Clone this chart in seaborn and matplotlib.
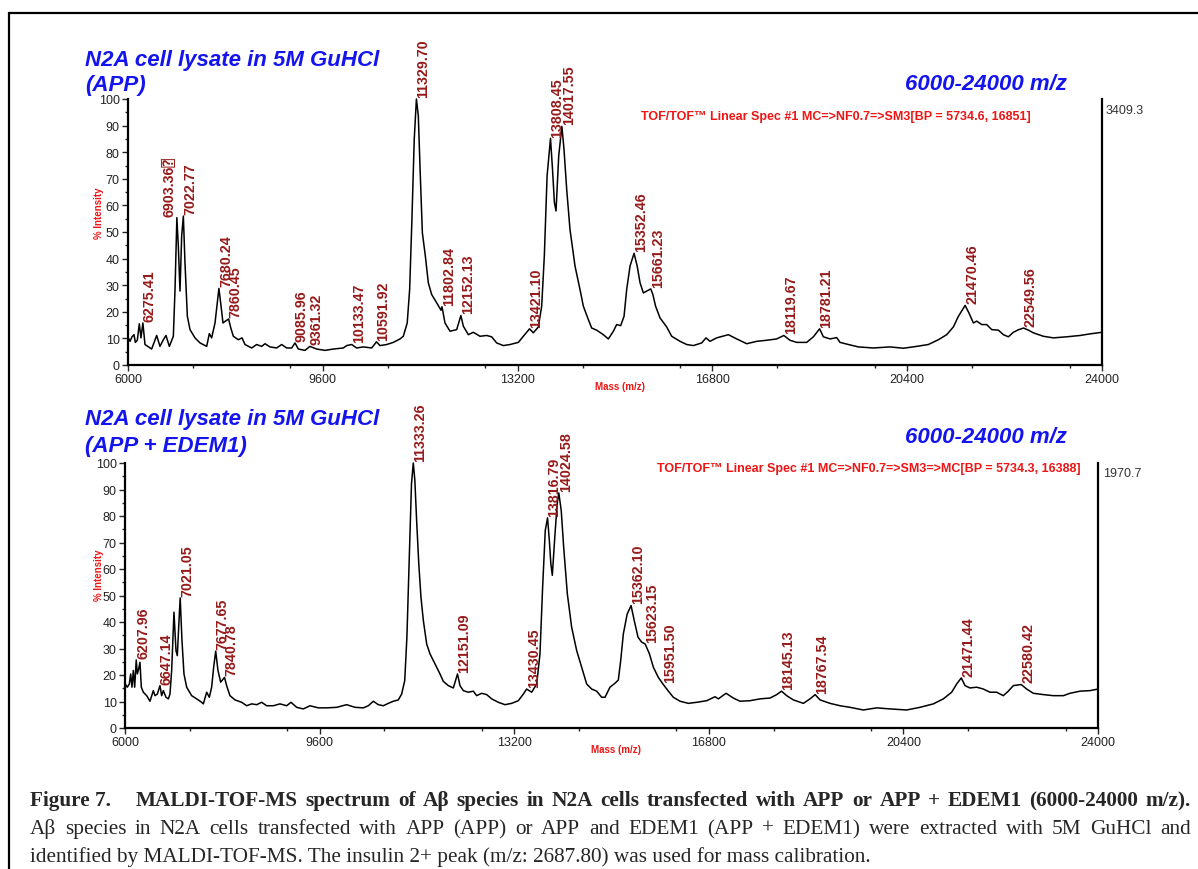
import numpy as np
import pandas as pd
import seaborn as sns
import matplotlib.pyplot as plt
from matplotlib import font_manager, ft2font
from matplotlib.patches import Rectangle
from matplotlib.ticker import MultipleLocator

### MALDI-TOF-MS spectra of Abeta species (APP vs APP + EDEM1)

sns.set_style("white")
plt.rcParams['font.family'] = ['Liberation Sans', 'DejaVu Sans']

# ---- spectrum: APP ----
app_mass = [6006, 6037, 6074, 6111, 6136, 6172, 6209, 6240, 6275, 6314, 6437, 6530, 6591,
            6653, 6702, 6764, 6838, 6869, 6903, 6930, 6961, 6992, 7023, 7053, 7097, 7146,
            7238, 7331, 7454, 7503, 7546, 7608, 7680, 7720, 7755, 7800, 7860, 7900, 7947,
            8039, 8107, 8162, 8285, 8378, 8470, 8532, 8624, 8747, 8840, 8932, 9025, 9086,
            9148, 9271, 9361, 9487, 9641, 9795, 9979, 10041, 10133, 10226, 10349, 10503,
            10592, 10657, 10780, 10903, 11027, 11088, 11160, 11205, 11245, 11290, 11330,
            11365, 11400, 11440, 11495, 11550, 11612, 11704, 11784, 11803, 11858, 11951,
            12074, 12152, 12197, 12290, 12382, 12505, 12628, 12721, 12813, 12936, 13060,
            13214, 13306, 13421, 13491, 13583, 13645, 13694, 13745, 13808, 13845, 13880,
            13910, 13960, 14018, 14057, 14107, 14168, 14261, 14353, 14415, 14507, 14569,
            14661, 14784, 14877, 14970, 15031, 15105, 15167, 15216, 15278, 15352, 15410,
            15463, 15524, 15586, 15661, 15700, 15750, 15832, 15955, 16048, 16202, 16325,
            16448, 16602, 16682, 16756, 16879, 17095, 17249, 17434, 17618, 17803, 17988,
            18120, 18234, 18358, 18542, 18666, 18781, 18851, 18974, 19097, 19159, 19313,
            19498, 19775, 20083, 20329, 20575, 20791, 20976, 21130, 21253, 21346, 21470,
            21540, 21623, 21685, 21777, 21869, 21962, 22085, 22177, 22270, 22362, 22450,
            22550, 22640, 22731, 22916, 23101, 23347, 23594, 23779, 24000]
app_int = [10.2, 8.9, 10.6, 11.4, 8.5, 9.3, 15.5, 10.2, 15.8, 7.7, 6.0, 11.1, 7.0,
           9.5, 11.1, 7.0, 10.8, 28.4, 55.4, 44.7, 27.8, 48.5, 56.0, 38.4, 18.3, 13.3,
           10.2, 8.3, 7.0, 11.8, 10.2, 15.8, 28.8, 22.1, 15.8, 16.5, 17.3, 13.9, 10.8,
           9.5, 10.2, 7.7, 6.4, 7.7, 7.0, 8.0, 6.8, 6.4, 7.7, 6.4, 6.4, 8.3,
           6.0, 5.5, 7.0, 6.0, 5.5, 6.0, 6.4, 7.3, 7.7, 6.4, 6.8, 6.4,
           8.7, 7.3, 7.7, 8.5, 9.8, 10.8, 15.8, 28.4, 53.5, 84.9, 100.0,
           93.7, 72.4, 49.7, 41.0, 30.9, 26.5, 23.4, 20.6, 21.9, 15.8, 12.7,
           13.3, 18.6, 14.6, 11.4, 12.3, 10.8, 11.1, 10.6, 8.3, 7.3, 7.7,
           8.5, 10.8, 13.6, 12.1, 14.3, 22.1, 41.0, 71.1, 85.2, 73.6, 61.1,
           57.9, 78.6, 89.7, 81.2, 66.1, 51.0, 37.2, 28.4, 22.1, 17.1, 13.9,
           13.1, 11.4, 9.8, 12.7, 15.2, 14.8, 18.3, 28.4, 37.2, 42.0, 37.2,
           30.9, 27.1, 27.8, 28.6, 26.5, 22.1, 17.7, 14.3, 10.8, 8.9, 7.7,
           7.3, 8.3, 10.2, 8.9, 10.2, 11.4, 9.8, 8.0, 8.9, 9.3, 9.8,
           11.1, 9.3, 8.5, 8.5, 10.6, 13.6, 10.6, 9.8, 10.3, 8.5, 7.7,
           6.8, 6.4, 6.8, 6.3, 7.0, 7.7, 9.5, 11.4, 14.3, 18.3, 22.4,
           19.6, 15.8, 16.5, 15.2, 15.2, 13.3, 13.1, 11.4, 10.6, 12.3, 13.2,
           13.9, 13.1, 12.1, 10.8, 10.2, 10.6, 11.1, 11.7, 12.3]
app_peaks = [6275.41, 6903.36, 7022.77, 7680.24, 7860.45, 9085.96, 9361.32, 10133.47,
             10591.92, 11329.70, 11802.84, 12152.13, 13421.10, 13808.45, 14017.55,
             15352.46, 15661.23, 18119.67, 18781.21, 21470.46, 22549.56]
app_peak_labels = ["6275.41", "6903.36", "7022.77", "7680.24", "7860.45", "9085.96",
                   "9361.32", "10133.47", "10591.92", "11329.70", "11802.84", "12152.13",
                   "13421.10", "13808.45", "14017.55", "15352.46", "15661.23", "18119.67",
                   "18781.21", "21470.46", "22549.56"]

# ---- spectrum: APP + EDEM1 ----
edem_mass = [6006, 6043, 6080, 6105, 6129, 6154, 6179, 6208, 6228, 6253, 6277, 6302, 6339,
             6401, 6462, 6524, 6555, 6598, 6647, 6678, 6709, 6758, 6802, 6832, 6863, 6906,
             6943, 6968, 6993, 7021, 7054, 7091, 7141, 7233, 7326, 7418, 7449, 7511, 7560,
             7603, 7640, 7678, 7720, 7770, 7841, 7880, 7942, 8035, 8158, 8251, 8343, 8436,
             8528, 8621, 8744, 8867, 8991, 9071, 9176, 9299, 9422, 9577, 9731, 9916, 10101,
             10255, 10409, 10501, 10594, 10686, 10779, 10871, 10964, 11056, 11118, 11175,
             11215, 11260, 11300, 11333, 11362, 11395, 11435, 11475, 11519, 11581, 11642,
             11735, 11827, 11889, 11981, 12074, 12151, 12197, 12259, 12351, 12444, 12505,
             12598, 12691, 12783, 12906, 13030, 13153, 13276, 13369, 13430, 13523, 13616,
             13677, 13726, 13775, 13817, 13850, 13878, 13905, 13955, 13995, 14025, 14070,
             14115, 14183, 14263, 14356, 14448, 14541, 14633, 14726, 14818, 14880, 14972,
             15065, 15126, 15170, 15219, 15290, 15362, 15420, 15490, 15558, 15623, 15701,
             15775, 15866, 15952, 16052, 16144, 16268, 16422, 16576, 16761, 16915, 16977,
             17119, 17254, 17378, 17563, 17748, 17933, 18056, 18145, 18241, 18365, 18550,
             18673, 18768, 18858, 19043, 19228, 19412, 19659, 19906, 20152, 20460, 20707,
             20954, 21139, 21293, 21385, 21471, 21540, 21632, 21755, 21879, 22002, 22125,
             22248, 22341, 22434, 22580, 22680, 22804, 22989, 23174, 23359, 23482, 23667,
             23852, 24000]
edem_int = [16.6, 15.4, 16.6, 20.4, 15.4, 21.7, 15.4, 25.7, 20.4, 22.3, 24.8, 15.4, 13.5,
            12.2, 10.1, 14.1, 12.2, 12.8, 16.0, 12.2, 14.1, 11.6, 11.0, 12.8, 21.7, 43.7,
            29.2, 27.3, 38.0, 49.1, 33.0, 20.4, 15.4, 12.2, 11.0, 9.7, 9.1, 13.5, 11.6,
            15.4, 22.9, 29.0, 21.7, 17.3, 19.1, 16.0, 12.2, 10.6, 9.7, 8.4, 9.1, 8.8,
            9.7, 8.4, 8.4, 9.1, 8.4, 9.7, 7.8, 7.2, 8.4, 7.6, 7.6, 7.8, 8.8,
            7.8, 7.6, 8.4, 10.1, 8.8, 8.4, 9.3, 10.1, 10.6, 12.8, 17.9,
            34.3, 65.7, 92.2, 100.0, 93.5, 78.3, 61.9, 49.4, 40.6, 31.7, 28.0,
            24.2, 20.4, 17.6, 16.0, 15.1, 20.4, 16.0, 14.1, 13.5, 13.9, 12.2,
            13.1, 12.6, 11.0, 9.7, 8.8, 9.3, 10.3, 12.8, 14.7, 13.5, 16.6,
            28.0, 53.2, 74.6, 79.3, 70.8, 62.0, 57.6, 73.3, 84.6, 88.7, 82.1,
            68.3, 50.6, 38.0, 29.2, 22.9, 16.6, 14.7, 13.9, 11.6, 11.6, 15.4,
            16.9, 18.1, 25.4, 35.5, 43.0, 46.2, 40.6, 34.3, 32.4, 31.7, 28.0,
            22.9, 19.1, 16.6, 13.9, 11.6, 10.1, 9.3, 9.7, 10.3, 11.8, 11.0,
            13.1, 11.3, 10.1, 10.3, 11.0, 11.3, 12.6, 13.9, 12.2, 10.6, 9.3,
            11.0, 12.6, 10.6, 9.3, 8.4, 7.8, 6.8, 7.6, 7.2, 6.8, 7.8,
            9.1, 11.0, 13.5, 16.6, 18.9, 16.0, 15.1, 15.4, 14.7, 13.5, 13.5,
            12.2, 13.9, 16.0, 16.4, 14.7, 13.1, 12.6, 12.2, 12.2, 13.1, 13.9,
            14.1, 14.7]
edem_peaks = [6207.96, 6647.14, 7021.05, 7677.65, 7840.78, 11333.26, 12151.09, 13430.45,
              13816.79, 14024.58, 15362.10, 15623.15, 15951.50, 18145.13, 18767.54,
              21471.44, 22580.42]
edem_peak_labels = ["6207.96", "6647.14", "7021.05", "7677.65", "7840.78", "11333.26",
                    "12151.09", "13430.45", "13816.79", "14024.58", "15362.10", "15623.15",
                    "15951.50", "18145.13", "18767.54", "21471.44", "22580.42"]

mass_ticks = [6000, 9600, 13200, 16800, 20400, 24000]

W, H = 1198, 870
BLUE = '#1414ee'
RED = '#ee1515'
PEAK_RED = '#961a1a'
QUAD_Q = '\u2370'  # the odd boxed "?" glyph that follows 6903.36 in the original

fig = plt.figure(figsize=(W / 100, H / 100), dpi=100)


def fx(x):
    return x / W


def fy(y):
    return 1 - y / H


def family_with(ch):
    """Return an installed font family that has a glyph for ch, or None."""
    for f in font_manager.fontManager.ttflist:
        try:
            if ord(ch) in ft2font.FT2Font(f.fname).get_charmap():
                return f.name
        except Exception:
            pass
    return None


quad_family = family_with(QUAD_Q)


def draw_panel(box, mass, inten, peaks, labels, title_lines, spec_text, spec_pos,
               abs_text, abs_pos, ylab_y, mz_base):
    x0, y0, x1, y1 = box
    ax = fig.add_axes([fx(x0), fy(y1), (x1 - x0) / W, (y1 - y0) / H])
    df = pd.DataFrame({'mass': mass, 'intensity': inten})
    sns.lineplot(data=df, x='mass', y='intensity', ax=ax, color='black', lw=1.1,
                 estimator=None, sort=True)
    for line in ax.lines:
        line.set_clip_on(False)
    ax.set_xlim(6000, 24000)
    ax.set_ylim(0, 100)
    ax.set_xticks(mass_ticks)
    ax.xaxis.set_minor_locator(MultipleLocator(1800))
    ax.yaxis.set_major_locator(MultipleLocator(10))
    ax.yaxis.set_minor_locator(MultipleLocator(5))
    ax.tick_params(axis='both', which='major', direction='out', length=4, width=1,
                   labelsize=9, labelcolor='#222222', pad=2, left=True, bottom=True)
    ax.tick_params(axis='both', which='minor', direction='out', length=2.5, width=1,
                   left=True, bottom=True)
    ax.spines['top'].set_visible(False)
    for s in ['left', 'bottom', 'right']:
        ax.spines[s].set_linewidth(1.6)
        ax.spines[s].set_color('black')
    ax.set_xlabel("Mass (m/z)", color=RED, fontsize=7, weight='bold')
    ax.xaxis.set_label_coords(0.505, -0.06)
    ax.set_ylabel("")
    fig.text(fx(99), fy(ylab_y), "% Intensity", color=RED, fontsize=7, weight='bold',
             rotation=90, ha='center', va='center')

    # peak annotations; the 6903.36 label sits to the left of its peak in the original
    for p, lab in zip(peaks, labels):
        h = np.interp(p, mass, inten)
        ha = 'right' if lab == "6903.36" else 'left'
        if lab == "6903.36" and quad_family:
            t = ax.text(p, h + 0.8, lab + QUAD_Q, rotation=90, ha=ha, va='bottom',
                        fontsize=10.3, weight='bold', color=PEAK_RED, clip_on=False,
                        family=['Liberation Sans', quad_family])
            continue
        t = ax.text(p, h + 0.8, lab, rotation=90, ha=ha, va='bottom', fontsize=10.3,
                    weight='bold', color=PEAK_RED, clip_on=False)
        if lab == "6903.36":
            # no installed font has the boxed question mark: draw it as a boxed "?"
            ax.annotate("?", xy=(0.5, 1), xycoords=t, xytext=(0, 2),
                        textcoords='offset points', rotation=90, ha='center', va='bottom',
                        fontsize=5.5, color=PEAK_RED,
                        bbox=dict(boxstyle='square,pad=0.1', fc='white', ec=PEAK_RED,
                                  lw=0.6))

    for txt, base in title_lines:
        fig.text(fx(85), fy(base), txt, color=BLUE, fontsize=16, weight='bold',
                 style='italic', va='baseline', ha='left')
    fig.text(fx(905), fy(mz_base), "6000-24000 m/z", color=BLUE, fontsize=16,
             weight='bold', style='italic', va='baseline', ha='left')
    fig.text(fx(spec_pos[0]), fy(spec_pos[1]), spec_text, color=RED, fontsize=9,
             weight='bold', va='baseline', ha='left')
    fig.text(fx(abs_pos[0]), fy(abs_pos[1]), abs_text, color='#333333', fontsize=9,
             va='baseline', ha='left')
    return ax


draw_panel((128, 100, 1102, 366), app_mass, app_int, app_peaks, app_peak_labels,
           [("N2A cell lysate in 5M GuHCl", 66), ("(APP)", 91)],
           "TOF/TOF\u2122 Linear Spec #1 MC=>NF0.7=>SM3[BP = 5734.6, 16851]", (641, 120),
           "3409.3", (1106, 114), 213, 90)
draw_panel((125, 464, 1098, 729), edem_mass, edem_int, edem_peaks, edem_peak_labels,
           [("N2A cell lysate in 5M GuHCl", 425), ("(APP + EDEM1)", 452)],
           "TOF/TOF\u2122 Linear Spec #1 MC=>NF0.7=>SM3=>MC[BP = 5734.3, 16388]", (657, 472),
           "1970.7", (1103, 477), 575, 443)

# outer frame (cut by the right and bottom edges like the original)
fig.add_artist(Rectangle((fx(9), -0.05), 1.1, fy(14) + 0.05, transform=fig.transFigure,
                         fill=False, edgecolor='black', lw=1.6, clip_on=False))

# ---- caption ----
SERIF = ['Liberation Serif', 'DejaVu Serif']
CAP_SIZE = 15.3
renderer = fig.canvas.get_renderer()


def justify(words, base, x_start, x_end, **kw):
    texts = [fig.text(0, fy(base), w, va='baseline', ha='left', **kw) for w in words]
    widths = [t.get_window_extent(renderer).width for t in texts]
    gap = (x_end - x_start - sum(widths)) / max(len(words) - 1, 1)
    x = x_start
    for t, w in zip(texts, widths):
        t.set_x(fx(x))
        x += w + gap


fig.text(fx(30), fy(806), "Figure 7.", family=SERIF, fontsize=CAP_SIZE, weight='bold',
         va='baseline', ha='left')
justify("MALDI-TOF-MS spectrum of A\u03b2 species in N2A cells transfected with APP or "
        "APP + EDEM1 (6000-24000 m/z).".split(), 806, 136, 1191,
        family=SERIF, fontsize=CAP_SIZE, weight='bold')
justify("A\u03b2 species in N2A cells transfected with APP (APP) or APP and EDEM1 "
        "(APP + EDEM1) were extracted with 5M GuHCl and".split(), 834, 30, 1191,
        family=SERIF, fontsize=CAP_SIZE)
fig.text(fx(30), fy(862), "identified by MALDI-TOF-MS. The insulin 2+ peak (m/z: 2687.80) "
         "was used for mass calibration.", family=SERIF, fontsize=CAP_SIZE,
         va='baseline', ha='left')

fig.savefig("out.png", dpi=100)
